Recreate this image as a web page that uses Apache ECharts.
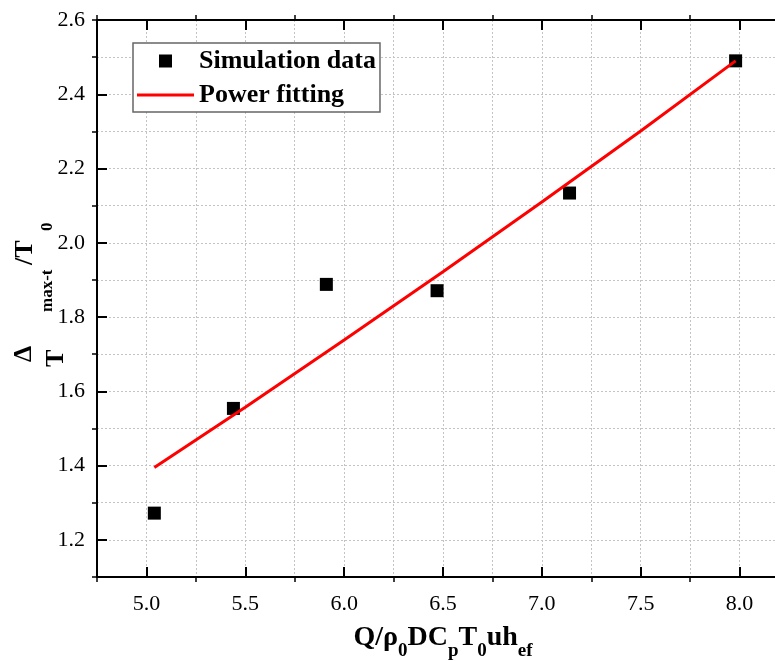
<!DOCTYPE html>
<html>
<head>
<meta charset="utf-8">
<script src="https://cdn.jsdelivr.net/npm/echarts@6/dist/echarts.min.js"></script>
<style>
  html, body { margin: 0; padding: 0; background: #fff; }
  #chart { width: 775px; height: 661px; }
</style>
</head>
<body>
<div id="chart"></div>
<script>
// Simulated peak temperature rise vs. dimensionless heat release rate
const simX = [5.04, 5.44, 5.91, 6.47, 7.14, 7.98];
const simY = [1.272, 1.554, 1.888, 1.871, 2.134, 2.49];

// Power-law fit curve, sampled along its length
const fitX = [5.04, 5.5, 6.0, 6.5, 7.0, 7.5, 7.98];
const fitY = [1.395, 1.557, 1.738, 1.922, 2.110, 2.301, 2.49];

// Labelled ticks
const xTicks = [5.0, 5.5, 6.0, 6.5, 7.0, 7.5, 8.0];
const yTicks = [1.2, 1.4, 1.6, 1.8, 2.0, 2.2, 2.4, 2.6];

const seriesNames = ['Simulation data', 'Power fitting'];

const SERIF = '"Liberation Serif", "Times New Roman", serif';
const X_MIN = 4.75, X_MAX = 8.25, X_MINOR = 0.25;
const Y_MIN = 1.1, Y_MAX = 2.6, Y_MINOR = 0.1;
const PLOT = { left: 97, top: 20, width: 692, height: 557 };
const pxX = PLOT.width / (X_MAX - X_MIN);
const pxY = PLOT.height / (Y_MAX - Y_MIN);
const xMajorStep = xTicks[1] - xTicks[0];
const yMajorStep = yTicks[1] - yTicks[0];

const black = '#000';
const red = '#ff0000';
const axisLine = { show: true, lineStyle: { color: black, width: 2 } };
const dotted = { show: true, lineStyle: { color: '#c4c4c4', width: 1, type: [2, 2] } };
const hidden = { show: false };

// grid 0 : data, axis lines, grid lines, outward minor ticks
// grid 1 : same scale, starting at the first labelled x tick (inward major x ticks)
// grid 2 : same scale, ending at the first labelled y tick (inward major y ticks)
const xShift = (xTicks[0] - X_MIN) * pxX;
const gridBase = { outerBoundsMode: 'none', containLabel: false };
const grids = [
  Object.assign({ left: PLOT.left, top: PLOT.top, width: PLOT.width, height: PLOT.height }, gridBase),
  Object.assign({ left: PLOT.left + xShift, top: PLOT.top, width: PLOT.width - xShift, height: PLOT.height }, gridBase),
  Object.assign({ left: PLOT.left, top: PLOT.top + (Y_MAX - yTicks[yTicks.length - 1]) * pxY,
    width: PLOT.width, height: (yTicks[yTicks.length - 1] - yTicks[0]) * pxY }, gridBase)
];

const inTicks = { show: true, inside: true, length: 10, lineStyle: { color: black, width: 2 } };
const outTicks = { show: true, inside: false, length: 5, lineStyle: { color: black, width: 1.5 } };

const fmtX = v => xTicks.some(t => Math.abs(t - v) < 1e-6) ? v.toFixed(1) : '';
const fmtY = v => yTicks.some(t => Math.abs(t - v) < 1e-6) ? v.toFixed(1) : '';
const tickLabel = { fontFamily: SERIF, fontSize: 22, color: black };

const xMinorCount = (X_MAX - X_MIN) / (2 * X_MINOR);
const yMinorCount = (Y_MAX - Y_MIN) / Y_MINOR;

// legend glyphs: a centred square and a centred bar inside a 57x13 box
const squareIcon = 'path://M0,0M57,13M22,0h13v13h-13z';
const barIcon = 'path://M0,0M57,13M0,5h57v3h-57z';

const option = {
  animation: false,
  backgroundColor: '#fff',
  grid: grids,
  xAxis: [
    { // data axis
      type: 'value', gridIndex: 0, position: 'bottom', min: X_MIN, max: X_MAX, interval: X_MINOR,
      axisLine: axisLine, axisTick: hidden, axisLabel: hidden, splitLine: dotted,
      name: '{b|Q/ρ}{s|0}{b|DC}{s|p}{b|T}{s|0}{b|uh}{s|ef}',
      nameLocation: 'middle', nameGap: 47,
      nameTextStyle: {
        rich: {
          b: { fontFamily: SERIF, fontSize: 28, fontWeight: 'bold', color: black, verticalAlign: 'top' },
          s: { fontFamily: SERIF, fontSize: 19, fontWeight: 'bold', color: black, verticalAlign: 'top', padding: [18, 0, 0, 0] }
        }
      }
    },
    { // minor ticks, bottom (half-step positions)
      type: 'value', gridIndex: 0, position: 'bottom', min: 0, max: xMinorCount, interval: 1,
      axisLine: hidden, axisTick: outTicks, axisLabel: hidden, splitLine: hidden
    },
    { // top frame line with minor ticks
      type: 'value', gridIndex: 0, position: 'top', min: 0, max: xMinorCount, interval: 1,
      axisLine: axisLine, axisTick: outTicks, axisLabel: hidden, splitLine: hidden
    },
    { // major ticks + labels, bottom
      type: 'value', gridIndex: 1, position: 'bottom', min: xTicks[0], max: X_MAX, interval: xMajorStep,
      axisLine: hidden, axisTick: inTicks, splitLine: hidden,
      axisLabel: Object.assign({ margin: 16, formatter: fmtX, showMaxLabel: false }, tickLabel)
    },
    { // major ticks, top
      type: 'value', gridIndex: 1, position: 'top', min: xTicks[0], max: X_MAX, interval: xMajorStep,
      axisLine: hidden, axisTick: inTicks, axisLabel: hidden, splitLine: hidden
    },
    { type: 'value', gridIndex: 2, show: false, min: X_MIN, max: X_MAX }
  ],
  yAxis: [
    { // data axis
      type: 'value', gridIndex: 0, position: 'left', min: Y_MIN, max: Y_MAX, interval: Y_MINOR,
      axisLine: axisLine, axisTick: hidden, axisLabel: hidden, splitLine: dotted
    },
    { // minor ticks (odd tenths)
      type: 'value', gridIndex: 0, position: 'left', min: 0, max: yMinorCount, interval: 2,
      axisLine: hidden, axisTick: outTicks, axisLabel: hidden, splitLine: hidden
    },
    { type: 'value', gridIndex: 1, show: false, min: Y_MIN, max: Y_MAX },
    { // major ticks + labels
      type: 'value', gridIndex: 2, position: 'left', min: yTicks[0], max: yTicks[yTicks.length - 1], interval: yMajorStep,
      axisLine: hidden, axisTick: inTicks, splitLine: hidden,
      axisLabel: Object.assign({ margin: 12, formatter: fmtY }, tickLabel)
    }
  ],
  legend: {
    orient: 'vertical', left: 133, top: 43,
    backgroundColor: '#fff', borderColor: '#666', borderWidth: 1.5,
    padding: [5, 4, 4, 4], itemGap: 8, itemWidth: 57, itemHeight: 13,
    textStyle: { fontFamily: SERIF, fontSize: 26, fontWeight: 'bold', color: black },
    data: [
      { name: seriesNames[0], icon: squareIcon, itemStyle: { color: black, opacity: 1 } },
      { name: seriesNames[1], icon: barIcon, itemStyle: { color: red, opacity: 1 } }
    ]
  },
  graphic: [
    { type: 'text', x: 24.5, y: 362, rotation: Math.PI / 2,
      style: { text: 'Δ', font: 'bold 26px ' + SERIF, fill: black, align: 'left', verticalAlign: 'middle' } },
    { type: 'text', x: 56.2, y: 367, rotation: Math.PI / 2,
      style: { text: 'T', font: 'bold 26px ' + SERIF, fill: black, align: 'left', verticalAlign: 'middle' } },
    { type: 'text', x: 47.6, y: 312, rotation: Math.PI / 2,
      style: { text: 'max-t', font: 'bold 17px ' + SERIF, fill: black, align: 'left', verticalAlign: 'middle' } },
    { type: 'text', x: 25.7, y: 265, rotation: Math.PI / 2,
      style: { text: '/T', font: 'bold 26px ' + SERIF, fill: black, align: 'left', verticalAlign: 'middle' } },
    { type: 'text', x: 47.6, y: 231, rotation: Math.PI / 2,
      style: { text: '0', font: 'bold 17px ' + SERIF, fill: black, align: 'left', verticalAlign: 'middle' } }
  ],
  series: [
    {
      name: seriesNames[0], type: 'scatter', xAxisIndex: 0, yAxisIndex: 0,
      symbol: 'rect', symbolSize: 13, itemStyle: { color: black, opacity: 1 },
      data: simX.map((x, i) => [x, simY[i]])
    },
    {
      name: seriesNames[1], type: 'line', xAxisIndex: 0, yAxisIndex: 0,
      showSymbol: false, symbol: 'none',
      lineStyle: { color: red, width: 3 }, itemStyle: { color: red },
      data: fitX.map((x, i) => [x, fitY[i]])
    }
  ]
};

const chart = echarts.init(document.getElementById('chart'), null, { renderer: 'canvas' });
chart.setOption(option);
</script>
</body>
</html>
